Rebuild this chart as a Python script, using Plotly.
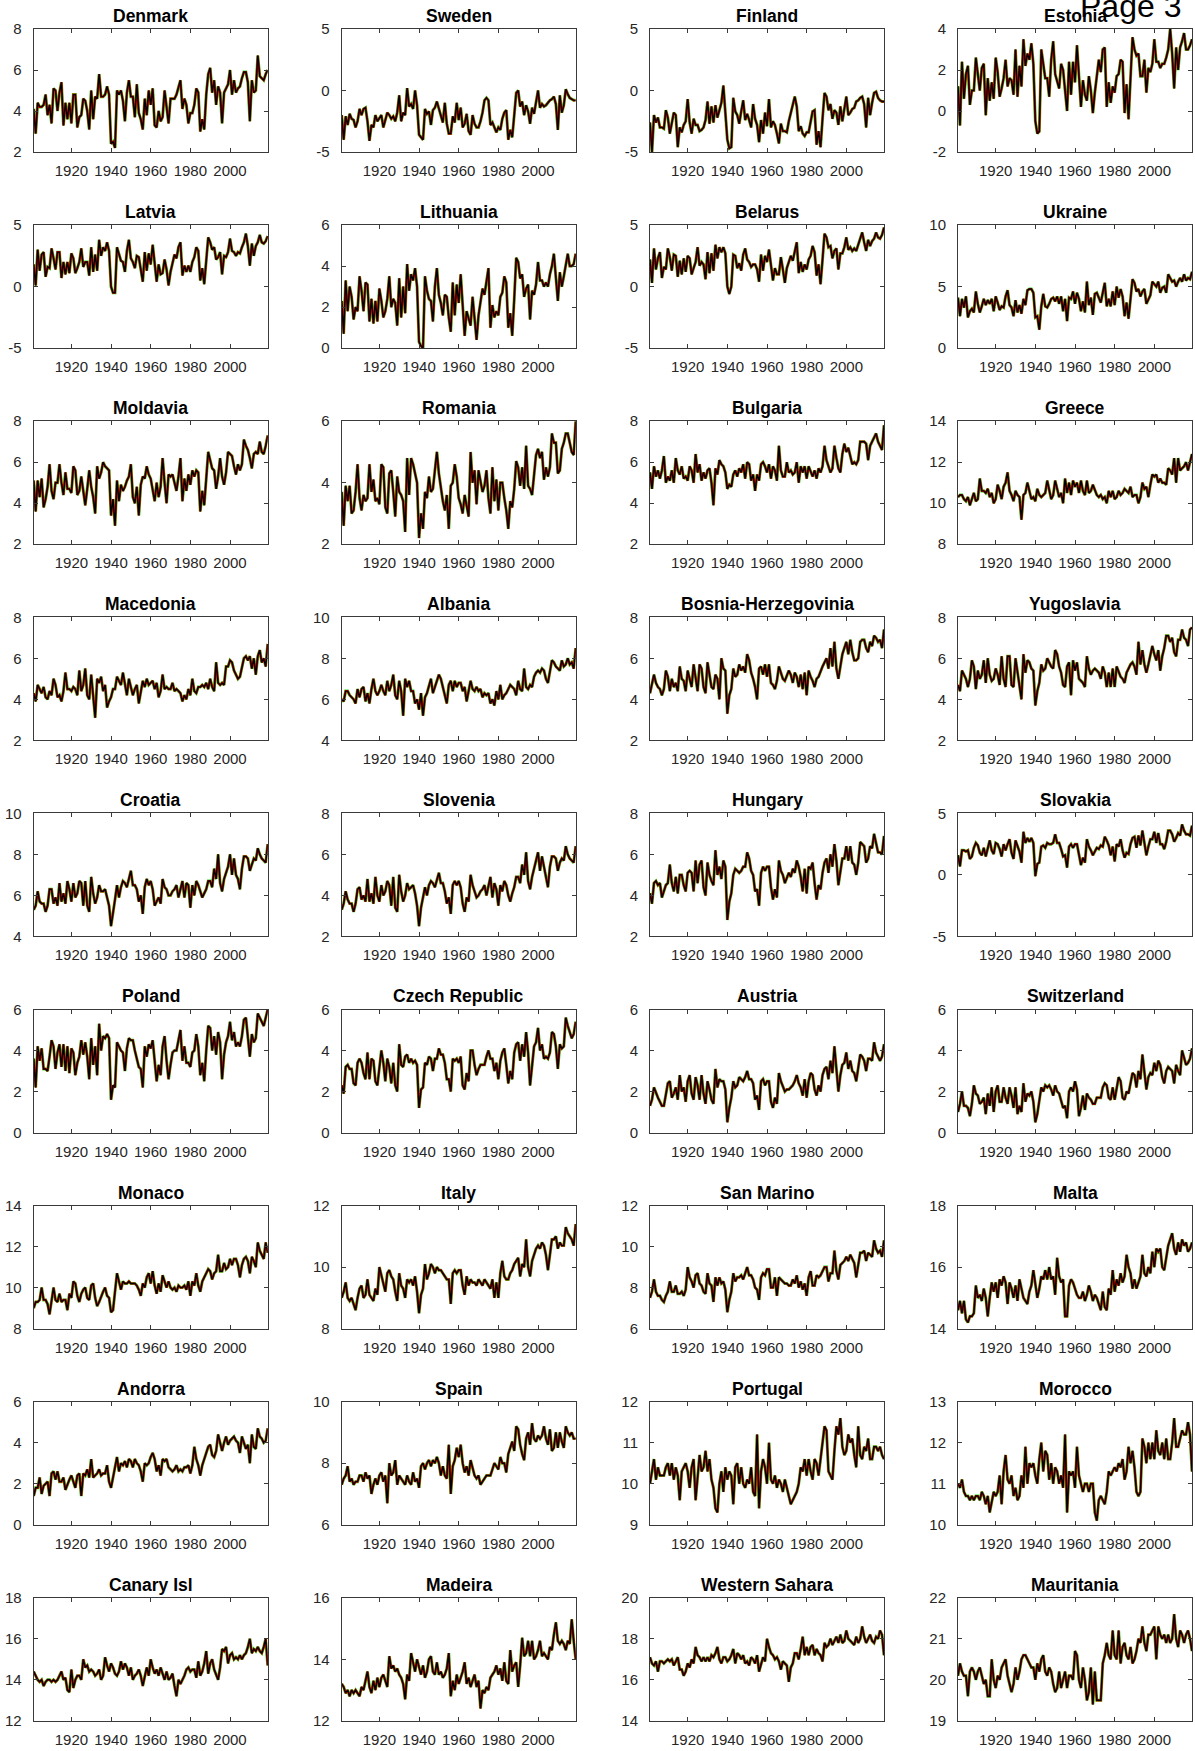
import plotly.graph_objects as go

YEARS = list(range(1901, 2020))
XTICKS = [1920, 1940, 1960, 1980, 2000]

DENMARK = [4.1, 2.9, 4.4, 4.2, 4.2, 4.3, 4.8, 3.8, 4.3, 3.4,
           5.1, 5.0, 4.0, 4.9, 5.4, 3.3, 4.4, 3.6, 4.4, 3.4,
           4.8, 4.8, 3.2, 3.7, 3.8, 4.6, 4.5, 4.0, 3.1, 5.0,
           3.6, 4.7, 4.6, 5.8, 4.7, 4.7, 4.8, 5.2, 4.8, 2.4,
           2.5, 2.2, 5.0, 4.8, 5.0, 4.5, 3.5, 4.9, 5.5, 4.7,
           4.7, 3.7, 5.3, 3.9, 3.6, 3.1, 4.6, 3.8, 5.0, 4.3,
           5.1, 3.3, 3.2, 4.0, 3.5, 3.7, 5.0, 4.2, 3.4, 4.6,
           4.6, 4.6, 4.8, 5.1, 5.5, 4.1, 4.6, 4.3, 3.4, 3.9,
           3.9, 4.3, 5.1, 4.9, 3.0, 3.6, 3.1, 4.8, 5.8, 6.1,
           4.9, 5.5, 4.3, 5.2, 4.9, 3.4, 4.9, 5.1, 5.3, 6.0,
           4.8, 5.5, 4.9, 5.1, 5.2, 5.6, 5.9, 5.9, 5.4, 3.5,
           5.5, 4.9, 5.0, 6.7, 5.7, 5.6, 5.5, 5.8, 6.0]
SWEDEN = [-2.0, -4.0, -2.1, -2.8, -1.9, -2.3, -2.4, -3.0, -2.5, -1.5,
          -2.0, -1.5, -1.4, -2.5, -4.1, -2.8, -3.0, -2.0, -2.5, -2.2,
          -2.0, -3.0, -2.4, -1.8, -2.0, -2.3, -2.1, -2.5, -1.8, -0.4,
          -2.5, -1.8, -2.0, 0.2, -1.3, -1.1, -1.5, 0.0, -1.2, -3.6,
          -3.8, -4.0, -1.5, -1.9, -1.7, -2.8, -1.6, -1.4, -0.9, -1.4,
          -1.9, -2.6, -1.0, -2.7, -3.5, -3.5, -2.1, -2.6, -1.0, -2.4,
          -1.4, -3.0, -2.7, -1.9, -3.3, -3.6, -2.0, -2.7, -3.0, -3.0,
          -2.5, -1.8, -0.8, -0.6, -0.8, -2.8, -2.6, -3.0, -3.4, -3.0,
          -3.2, -2.3, -1.8, -1.6, -4.0, -3.2, -3.8, -2.0, -0.2, 0.0,
          -1.3, -0.9, -2.0, -1.2, -1.7, -2.7, -1.4, -1.9, -1.0, 0.0,
          -1.4, -1.1, -1.3, -1.2, -1.0, -0.8, -0.7, -0.5, -1.1, -3.2,
          -0.4, -1.8, -1.2, 0.1, -0.3, -0.6, -0.7, -0.8, -0.8]
FINLAND = [-2.6, -5.0, -2.0, -2.6, -2.2, -3.0, -3.0, -3.1, -1.6, -2.2,
           -3.5, -2.5, -1.8, -2.0, -4.6, -3.0, -3.4, -2.8, -2.5, -0.7,
           -2.6, -3.5, -2.3, -2.8, -2.8, -3.3, -3.2, -3.0, -2.4, -0.9,
           -2.7, -1.3, -2.6, -1.2, -2.2, -1.6, -1.0, 0.4, -1.8, -4.0,
           -4.7, -4.6, -0.6, -1.7, -2.0, -2.7, -1.7, -0.8, -2.4, -1.9,
           -2.4, -3.0, -1.1, -2.3, -2.8, -4.2, -2.4, -3.5, -1.8, -2.9,
           -0.7, -3.0, -2.5, -2.8, -3.5, -4.3, -2.7, -3.3, -3.3, -3.4,
           -2.5, -1.9, -1.2, -0.5, -1.3, -3.3, -2.9, -3.5, -3.7, -3.4,
           -3.4, -2.4, -1.7, -1.6, -4.4, -3.3, -4.6, -2.3, -0.2, -0.5,
           -1.6, -1.1, -2.3, -1.6, -1.8, -2.8, -1.3, -2.5, -1.4, -0.5,
           -2.0, -1.8, -1.5, -1.4, -0.9, -0.8, -0.6, -0.5, -1.1, -3.0,
           -0.6, -2.0, -1.0, -0.2, -0.1, -0.6, -0.8, -0.9, -0.9]
ESTONIA = [1.2, -0.7, 2.4, 0.6, 1.8, 2.2, 0.3, 1.0, 1.0, 2.6,
           1.8, 1.0, 2.1, 2.3, -0.2, 1.6, 0.5, 1.4, 0.6, 2.6,
           1.9, 0.7, 1.1, 1.6, 2.5, 1.2, 1.6, 1.5, 0.8, 3.0,
           0.7, 2.2, 1.2, 3.5, 2.2, 2.8, 2.5, 3.3, 2.3, -0.5,
           -1.1, -1.0, 3.0, 2.4, 1.6, 1.6, 0.7, 2.5, 3.4, 1.8,
           1.5, 1.1, 2.3, 2.0, 1.0, 0.0, 2.4, 0.8, 2.4, 1.4,
           3.2, 1.5, 0.2, 1.5, 0.8, 0.5, 1.7, 1.0, -0.1, 0.9,
           1.6, 2.5, 1.9, 3.0, 3.1, 0.2, 1.4, 0.4, 1.2, 0.9,
           1.7, 1.8, 2.5, 2.4, -0.1, 1.3, -0.4, 1.7, 3.6, 3.0,
           2.7, 2.8, 1.7, 1.7, 2.5, 0.9, 2.1, 1.9, 2.3, 3.5,
           2.4, 2.4, 2.1, 2.3, 2.3, 2.6, 3.0, 4.0, 2.8, 1.1,
           3.1, 2.0, 3.1, 3.4, 3.8, 3.0, 3.0, 3.2, 3.5]
LATVIA = [1.8, 0.1, 3.0, 1.3, 2.6, 2.8, 0.8, 1.6, 1.5, 3.1,
          2.3, 1.4, 2.8, 2.8, 0.7, 2.0, 1.0, 2.0, 1.1, 2.7,
          2.3, 1.1, 1.5, 2.0, 3.1, 1.6, 2.0, 2.0, 0.9, 3.2,
          1.2, 2.6, 1.3, 3.8, 2.5, 3.2, 2.9, 3.6, 2.9, 0.0,
          -0.5, -0.5, 3.2, 2.6, 2.1, 2.0, 1.2, 2.9, 3.8, 2.3,
          2.0, 1.5, 2.5, 2.4, 1.4, 0.4, 2.8, 1.3, 2.7, 1.8,
          3.4, 1.8, 0.4, 1.8, 1.0, 1.1, 2.2, 1.4, 0.1, 1.2,
          2.0, 2.6, 2.3, 3.2, 3.6, 0.9, 1.7, 1.2, 1.7, 1.2,
          2.0, 2.4, 3.2, 2.9, 0.5, 1.5, 0.2, 2.1, 4.0, 3.6,
          3.0, 3.2, 2.2, 2.4, 2.8, 1.0, 2.5, 2.4, 2.8, 3.9,
          2.9, 2.8, 2.5, 2.8, 2.7, 3.2, 3.6, 4.3, 3.3, 1.7,
          3.5, 2.5, 3.3, 3.6, 4.2, 3.6, 3.5, 3.7, 4.1]
LITHUANIA = [2.3, 0.7, 3.3, 1.8, 3.0, 2.5, 1.4, 2.0, 1.8, 3.5,
             2.8, 1.8, 3.2, 3.1, 1.3, 2.4, 1.2, 2.3, 1.3, 2.9,
             2.3, 1.5, 1.8, 2.4, 3.5, 2.0, 2.4, 2.2, 1.1, 3.4,
             1.5, 3.0, 1.7, 4.1, 2.8, 3.6, 3.3, 3.9, 3.0, 0.3,
             0.1, 0.0, 3.5, 2.8, 2.4, 2.3, 1.3, 3.0, 3.9, 2.6,
             2.2, 1.6, 2.6, 2.5, 1.5, 0.8, 3.2, 1.6, 3.1, 2.2,
             3.6, 2.0, 0.6, 1.8, 1.4, 1.1, 2.5, 1.6, 0.4, 1.6,
             2.3, 2.9, 2.6, 3.3, 3.9, 1.0, 2.1, 1.5, 1.8, 1.6,
             2.5, 2.7, 3.5, 3.2, 1.0, 1.7, 0.6, 2.4, 4.4, 4.2,
             3.4, 3.6, 2.5, 2.9, 3.1, 1.4, 2.8, 2.6, 3.1, 4.2,
             3.3, 3.3, 3.0, 3.2, 3.0, 3.6, 4.0, 4.6, 3.5, 2.3,
             3.7, 3.0, 3.5, 4.0, 4.6, 4.0, 4.0, 4.1, 4.6]
BELARUS = [2.2, 0.3, 3.1, 1.4, 2.3, 2.8, 0.7, 1.6, 1.4, 3.1,
           2.4, 1.3, 2.6, 2.5, 0.8, 2.1, 1.0, 2.3, 1.2, 2.5,
           2.3, 1.0, 1.5, 2.0, 3.2, 1.7, 2.0, 1.8, 0.6, 2.8,
           1.1, 2.7, 1.3, 3.4, 2.3, 3.2, 2.8, 3.2, 2.7, 0.0,
           -0.6, 0.0, 2.6, 2.5, 1.5, 1.9, 1.3, 2.6, 3.1, 2.2,
           2.0, 1.6, 1.8, 1.8, 1.4, 0.4, 2.6, 1.3, 2.5, 2.0,
           3.0, 1.8, 0.5, 1.5, 1.0, 1.0, 2.4, 1.4, 0.3, 1.5,
           2.1, 2.5, 2.1, 2.9, 3.6, 1.1, 2.0, 1.2, 1.8, 1.4,
           2.2, 2.5, 3.3, 2.8, 0.9, 1.8, 0.2, 2.2, 4.3, 4.0,
           3.2, 3.3, 2.3, 2.9, 3.1, 1.4, 2.7, 2.7, 3.2, 4.0,
           3.0, 3.2, 2.9, 3.1, 2.9, 3.4, 4.0, 4.4, 3.6, 2.9,
           3.8, 3.3, 3.7, 3.9, 4.4, 4.0, 3.9, 4.2, 4.8]
UKRAINE = [4.1, 2.6, 4.0, 3.3, 4.2, 2.5, 3.0, 3.2, 2.9, 4.6,
           3.6, 2.9, 3.4, 4.0, 3.5, 3.9, 3.6, 4.0, 3.0, 4.2,
           3.7, 3.1, 3.4, 3.3, 4.2, 4.7, 3.5, 3.3, 2.6, 3.9,
           2.9, 3.5, 2.8, 4.0, 3.5, 4.7, 4.8, 4.8, 4.5, 2.5,
           2.6, 1.5, 3.4, 4.4, 3.4, 3.3, 3.6, 4.0, 4.1, 3.8,
           4.2, 3.6, 4.2, 3.0, 4.0, 2.2, 4.1, 4.0, 4.6, 3.6,
           4.5, 4.0, 3.0, 3.8, 2.9, 5.4, 3.5, 4.1, 2.7, 4.4,
           4.5, 4.0, 3.7, 4.5, 5.3, 3.4, 4.0, 3.4, 4.6, 3.5,
           5.0, 4.1, 4.8, 4.2, 2.6, 3.7, 2.4, 4.0, 5.6, 5.3,
           4.6, 4.8, 4.2, 4.6, 4.8, 3.6, 4.0, 4.3, 5.4, 5.2,
           5.0, 5.4, 4.5, 4.9, 5.0, 4.5, 6.0, 5.7, 5.4, 5.5,
           5.0, 5.4, 5.7, 5.4, 6.0, 5.5, 5.7, 5.6, 6.2]
MOLDAVIA = [5.1, 3.6, 5.1, 4.3, 5.2, 3.8, 4.2, 4.8, 5.9, 4.6,
            4.2, 5.0, 5.0, 5.9, 5.0, 4.4, 5.5, 4.7, 4.7, 4.5,
            5.8, 5.6, 4.4, 4.6, 5.3, 4.6, 3.9, 4.7, 5.6, 4.8,
            4.3, 3.5, 5.8, 5.2, 5.5, 6.0, 5.8, 5.7, 5.6, 3.4,
            4.2, 2.9, 5.1, 4.1, 4.9, 4.6, 4.8, 5.1, 5.3, 5.9,
            4.3, 4.0, 4.8, 3.4, 4.9, 5.3, 5.2, 5.8, 5.4, 5.2,
            4.6, 4.1, 5.0, 4.3, 4.8, 6.2, 5.0, 4.0, 5.4, 5.3,
            5.4, 5.0, 4.6, 5.3, 6.2, 4.1, 5.2, 4.6, 5.4, 4.9,
            5.6, 5.3, 5.6, 5.5, 3.6, 4.6, 3.9, 5.2, 6.5, 6.1,
            5.7, 5.6, 4.7, 5.3, 6.2, 5.3, 4.9, 5.5, 6.5, 6.4,
            6.3, 5.8, 5.4, 5.9, 5.6, 5.9, 7.1, 6.8, 6.6, 6.2,
            5.7, 6.4, 6.5, 6.4, 7.0, 6.5, 6.4, 6.8, 7.3]
ROMANIA = [3.7, 2.6, 3.9, 3.4, 3.9, 3.0, 3.1, 3.7, 4.6, 3.5,
           3.1, 3.6, 3.4, 3.5, 4.6, 3.7, 4.1, 3.4, 3.5, 3.3,
           4.6, 4.5, 3.2, 3.0, 4.3, 4.4, 3.7, 2.9, 4.2, 3.7,
           3.6, 3.4, 2.4, 4.8, 3.6, 4.8, 4.6, 4.3, 4.0, 2.2,
           3.0, 2.5, 3.7, 3.5, 4.2, 3.7, 3.8, 4.4, 5.0, 4.3,
           3.8, 3.4, 3.1, 3.6, 2.5, 3.9, 4.0, 4.6, 4.2, 3.5,
           3.3, 3.0, 3.6, 3.2, 2.9, 5.0, 4.0, 4.4, 3.3, 4.4,
           4.0, 3.7, 3.9, 4.4, 3.5, 3.0, 4.5, 3.4, 4.1, 3.1,
           4.0, 4.0, 3.5, 3.1, 2.5, 3.4, 3.2, 3.8, 4.7, 4.5,
           3.9, 4.5, 3.8, 5.2, 3.9, 3.8, 3.6, 4.4, 4.9, 5.1,
           4.8, 5.0, 4.1, 4.5, 4.2, 4.5, 5.6, 5.3, 5.3, 4.3,
           4.4, 5.1, 5.3, 5.6, 5.6, 5.3, 5.0, 4.9, 6.0]
BULGARIA = [5.5, 4.7, 5.8, 5.3, 5.6, 5.2, 5.6, 6.3, 5.0, 5.3,
            5.1, 5.6, 5.0, 6.2, 5.6, 5.4, 5.8, 5.2, 5.3, 5.1,
            5.8, 5.6, 5.0, 6.4, 5.5, 5.9, 5.1, 5.5, 5.2, 5.6,
            5.7, 5.0, 3.9, 5.7, 5.4, 6.1, 5.9, 5.8, 5.5, 4.7,
            4.9, 4.8, 5.4, 5.6, 5.3, 5.7, 5.5, 5.9, 5.2, 6.0,
            5.9, 5.1, 5.4, 4.6, 5.4, 5.1, 5.9, 6.0, 5.8, 5.5,
            5.9, 5.2, 5.8, 5.6, 5.1, 6.8, 5.6, 5.3, 5.3, 6.0,
            5.5, 5.6, 5.4, 5.5, 6.0, 5.0, 5.8, 5.5, 5.8, 5.2,
            5.8, 5.5, 5.3, 5.6, 5.2, 5.7, 5.5, 5.8, 6.8, 6.1,
            5.8, 5.5, 5.7, 6.8, 6.2, 5.7, 5.5, 6.4, 6.9, 6.5,
            6.7, 6.3, 5.9, 6.0, 5.9, 6.1, 7.0, 7.0, 7.0, 6.9,
            6.1, 6.8, 7.0, 7.2, 7.4, 7.0, 6.8, 6.6, 7.8]
GREECE = [10.3, 10.4, 10.4, 10.2, 10.1, 10.3, 9.9, 10.2, 10.5, 10.1,
          10.2, 11.2, 10.6, 10.6, 10.5, 10.7, 10.3, 10.5, 10.0, 10.2,
          10.9, 10.6, 10.2, 10.8, 11.0, 11.5, 10.6, 10.4, 10.1, 10.6,
          10.4, 10.3, 9.2, 10.4, 10.5, 11.0, 10.6, 10.2, 10.3, 10.1,
          10.7, 10.4, 10.3, 10.4, 10.5, 11.1, 10.6, 10.2, 10.4, 11.1,
          10.7, 10.3, 10.5, 10.0, 11.2, 10.5, 11.0, 10.4, 11.1, 10.8,
          11.0, 10.5, 11.1, 10.6, 10.4, 11.1, 10.5, 10.6, 10.9, 10.6,
          10.4, 10.3, 10.4, 10.2, 10.3, 10.0, 10.6, 10.3, 10.6, 10.2,
          10.3, 10.6, 10.4, 10.5, 10.7, 10.6, 10.5, 10.8, 10.3, 10.4,
          10.4, 10.0, 10.3, 11.0, 10.7, 10.8, 10.3, 10.9, 11.4, 11.3,
          11.4, 11.0, 11.2, 11.0, 11.0, 10.9, 11.7, 11.6, 11.4, 12.2,
          11.0, 12.2, 11.6, 11.7, 11.8, 12.0, 11.6, 12.0, 12.4]
MACEDONIA = [4.3, 3.9, 4.7, 4.5, 4.3, 4.6, 4.1, 4.0, 4.4, 4.2,
             5.0, 4.7, 4.1, 4.2, 3.9, 4.4, 5.3, 4.5, 4.5, 4.4,
             4.6, 4.5, 4.2, 5.4, 4.4, 4.7, 5.5, 4.2, 4.0, 5.2,
             4.3, 3.1, 5.0, 4.8, 5.1, 4.4, 4.7, 3.6, 3.9, 4.1,
             4.5, 4.5, 5.1, 4.9, 4.7, 5.3, 4.8, 4.2, 5.0, 4.6,
             4.2, 4.5, 4.7, 3.8, 4.4, 4.9, 4.6, 5.0, 4.7, 4.8,
             4.9, 4.5, 4.8, 4.1, 4.4, 5.2, 4.5, 4.6, 4.5, 4.5,
             4.8, 4.4, 4.5, 4.4, 4.3, 3.9, 4.2, 4.0, 4.5, 4.2,
             5.0, 4.4, 4.3, 4.6, 4.6, 4.7, 4.6, 4.8, 4.5, 5.0,
             4.6, 4.4, 5.8, 4.8, 4.7, 4.8, 4.7, 5.6, 5.6, 5.9,
             5.8, 5.4, 5.2, 5.0, 5.1, 5.5, 6.0, 6.1, 5.9, 6.1,
             5.5, 6.0, 5.2, 6.1, 6.4, 5.8, 6.0, 5.6, 6.7]
ALBANIA = [6.0, 5.9, 6.4, 6.4, 6.2, 6.1, 6.0, 5.8, 6.5, 6.1,
           6.5, 6.6, 5.9, 6.3, 5.8, 6.5, 7.0, 6.4, 6.2, 6.4,
           6.7, 6.4, 6.2, 6.9, 6.4, 6.7, 7.2, 6.2, 6.0, 6.9,
           6.4, 5.2, 7.0, 6.6, 6.9, 6.4, 6.4, 5.8, 6.0, 5.5,
           6.3, 5.2, 6.1, 6.3, 6.6, 7.0, 6.3, 6.6, 6.9, 7.2,
           7.0, 6.6, 6.3, 5.8, 6.7, 6.9, 6.4, 6.9, 6.6, 6.8,
           6.8, 6.4, 6.6, 5.9, 6.4, 6.9, 6.5, 6.4, 6.6, 6.4,
           6.5, 6.1, 6.3, 6.2, 6.3, 5.8, 6.0, 5.7, 6.4, 6.0,
           6.7, 6.0, 6.2, 6.3, 6.5, 6.7, 6.6, 6.5, 6.2, 6.9,
           6.5, 6.4, 7.5, 6.6, 6.5, 6.7, 6.6, 7.1, 7.3, 7.4,
           7.3, 7.5, 7.4, 7.0, 6.8, 7.3, 7.9, 7.8, 7.6, 7.5,
           7.4, 7.9, 7.6, 7.7, 8.0, 7.7, 7.8, 7.5, 8.5]
BOSNIA = [4.3, 4.8, 5.2, 4.8, 4.6, 4.5, 4.2, 4.5, 5.4, 5.1,
          4.4, 5.0, 4.6, 4.8, 4.4, 5.6, 5.0, 4.9, 4.4, 5.4,
          5.0, 4.6, 5.7, 5.0, 4.4, 5.7, 5.5, 4.6, 4.3, 5.8,
          5.1, 4.6, 4.5, 5.2, 5.0, 4.0, 6.0, 5.5, 5.4, 3.3,
          4.2, 4.5, 5.5, 5.1, 5.2, 5.7, 5.4, 5.6, 5.3, 6.2,
          5.9, 5.3, 5.0, 4.6, 4.0, 5.5, 5.6, 5.2, 5.7, 5.1,
          5.7, 4.8, 4.7, 4.5, 4.9, 5.6, 5.3, 5.0, 4.9, 5.2,
          5.4, 5.2, 4.8, 5.3, 5.1, 4.6, 5.2, 4.5, 5.3, 4.2,
          5.4, 5.1, 4.9, 4.6, 5.0, 5.1, 5.4, 5.6, 5.8, 6.0,
          5.5, 6.5, 5.6, 6.8, 5.5, 5.0, 5.6, 6.2, 6.5, 6.8,
          6.2, 6.9, 6.3, 5.9, 5.9, 6.0, 6.8, 6.9, 6.9, 6.5,
          6.3, 6.8, 6.6, 7.1, 7.0, 6.8, 6.9, 6.5, 7.4]
YUGOSLAVIA = [4.7, 4.4, 5.4, 5.2, 5.0, 4.6, 5.0, 5.9, 5.6, 4.5,
              5.4, 5.0, 5.2, 5.9, 4.8, 6.0, 5.2, 4.9, 5.0, 5.5,
              5.2, 4.7, 6.1, 5.0, 4.6, 6.1, 6.1, 4.7, 4.6, 6.0,
              5.4, 4.7, 4.0, 6.2, 5.3, 5.9, 5.8, 5.5, 5.4, 3.7,
              4.4, 4.8, 5.7, 5.4, 5.5, 6.0, 5.8, 5.6, 5.5, 6.4,
              6.2, 5.6, 5.3, 4.7, 4.6, 5.6, 5.8, 4.2, 5.9, 5.4,
              5.8, 5.0, 4.9, 4.8, 4.6, 6.1, 5.5, 5.2, 5.4, 5.5,
              5.4, 5.3, 5.0, 5.6, 5.3, 4.6, 5.3, 4.6, 5.5, 4.6,
              5.6, 5.3, 5.1, 5.0, 4.8, 5.3, 5.5, 5.7, 5.8, 5.6,
              5.2, 6.8, 5.7, 6.4, 5.7, 5.3, 5.7, 6.1, 6.6, 6.2,
              5.9, 6.4, 5.4, 6.1, 6.5, 7.1, 7.1, 6.8, 7.0, 6.3,
              6.1, 6.9, 6.9, 7.4, 7.0, 6.9, 6.6, 7.4, 7.5]
CROATIA = [5.3, 5.5, 6.2, 5.7, 5.6, 5.6, 5.2, 5.5, 6.3, 6.3,
           5.6, 5.9, 5.5, 6.6, 5.7, 6.1, 5.6, 6.7, 6.3, 5.7,
           6.6, 5.9, 6.1, 6.7, 6.6, 5.5, 6.7, 5.5, 5.2, 6.9,
           6.1, 5.6, 5.9, 6.5, 6.2, 6.2, 6.3, 5.9, 5.5, 4.5,
           5.3, 5.8, 6.5, 5.9, 6.4, 6.7, 6.6, 6.4, 6.8, 7.2,
           6.5, 6.5, 6.3, 5.7, 6.0, 5.1, 6.4, 6.8, 6.5, 6.7,
           6.3, 5.5, 5.7, 5.9, 5.6, 6.8, 6.4, 6.3, 6.0, 6.0,
           6.2, 6.3, 6.5, 5.9, 6.3, 6.7, 5.9, 6.6, 6.5, 5.4,
           6.5, 6.0, 6.7, 6.5, 6.2, 5.9, 6.1, 6.3, 6.7, 6.7,
           6.4, 7.3, 6.8, 8.0, 6.6, 6.2, 6.8, 7.1, 7.4, 8.0,
           7.0, 7.8, 7.0, 6.8, 6.3, 7.3, 7.9, 7.9, 7.8, 7.2,
           7.5, 7.8, 7.7, 8.3, 8.0, 7.8, 7.7, 7.6, 8.5]
SLOVENIA = [3.3, 3.6, 4.2, 3.8, 3.6, 3.6, 3.2, 3.6, 4.3, 4.4,
            3.8, 4.0, 3.7, 4.8, 3.7, 4.1, 3.6, 4.9, 4.0, 3.7,
            4.5, 4.0, 4.2, 4.7, 4.5, 3.5, 4.9, 3.4, 3.2, 5.0,
            4.2, 3.7, 4.0, 4.6, 4.3, 4.4, 4.5, 4.1, 3.5, 2.5,
            3.4, 3.9, 4.4, 4.0, 4.5, 4.7, 4.6, 4.4, 4.8, 5.1,
            4.6, 4.6, 4.2, 3.6, 3.9, 3.1, 4.5, 4.7, 4.5, 4.7,
            4.4, 3.6, 3.2, 3.9, 3.7, 5.0, 4.5, 4.2, 3.9, 4.0,
            4.2, 4.3, 4.5, 4.0, 4.5, 4.9, 3.9, 4.6, 4.3, 3.5,
            4.5, 4.2, 4.7, 4.5, 4.0, 3.7, 4.1, 4.4, 4.9, 4.9,
            4.6, 5.5, 5.0, 6.1, 4.7, 4.3, 4.9, 5.3, 5.7, 6.1,
            5.2, 5.9, 5.4, 4.9, 4.4, 5.4, 5.9, 5.9, 5.8, 5.2,
            5.6, 5.8, 5.7, 6.4, 6.0, 5.8, 5.7, 5.6, 6.4]
HUNGARY = [4.1, 3.6, 4.6, 4.7, 4.5, 4.6, 3.9, 4.2, 4.5, 4.6,
           5.5, 4.6, 4.2, 4.9, 4.1, 5.0, 5.0, 4.5, 4.2, 5.1,
           5.2, 5.1, 4.2, 5.7, 4.6, 5.5, 5.7, 4.4, 4.0, 5.6,
           5.0, 4.7, 4.5, 6.2, 5.0, 5.4, 4.8, 5.7, 5.4, 2.8,
           3.7, 4.1, 5.0, 5.3, 5.2, 5.1, 5.2, 5.4, 5.4, 6.1,
           5.8, 5.2, 5.0, 4.2, 4.3, 3.5, 5.1, 5.4, 5.2, 5.4,
           5.4, 4.4, 3.8, 4.3, 3.9, 5.7, 5.2, 5.0, 4.6, 4.9,
           5.1, 4.9, 5.3, 5.1, 5.7, 5.4, 4.9, 4.2, 5.3, 4.1,
           5.4, 5.3, 5.6, 4.6, 3.8, 4.5, 4.3, 5.1, 5.6, 5.8,
           5.1, 6.0, 5.4, 6.5, 5.7, 4.5, 5.1, 5.8, 5.8, 6.4,
           5.7, 6.4, 5.6, 5.5, 5.0, 5.6, 6.6, 6.5, 6.4, 5.6,
           5.8, 6.4, 6.3, 7.0, 6.6, 6.1, 6.1, 6.0, 6.9]
SLOVAKIA = [1.6, 0.7, 2.0, 2.0, 1.9, 2.0, 1.3, 1.5, 2.2, 2.6,
            2.4, 1.8, 1.6, 2.2, 1.5, 2.2, 2.8, 2.0, 1.7, 2.6,
            2.5, 2.1, 1.5, 2.5, 2.0, 2.5, 2.9, 1.8, 1.3, 2.8,
            2.3, 1.9, 1.0, 3.5, 2.6, 3.0, 2.7, 3.0, 2.6, -0.1,
            0.9, 1.0, 2.3, 2.4, 2.2, 2.6, 2.5, 2.5, 2.6, 3.3,
            2.6, 2.6, 2.1, 1.5, 1.6, 0.6, 2.3, 2.5, 2.2, 2.5,
            2.5, 1.5, 0.8, 1.4, 1.0, 2.9, 2.3, 2.0, 1.6, 1.9,
            2.2, 2.1, 2.4, 2.3, 3.1, 2.8, 2.4, 1.6, 2.3, 1.1,
            2.5, 2.3, 2.9, 2.0, 1.4, 1.8, 1.7, 2.5, 3.0, 3.1,
            2.2, 3.2, 2.4, 3.6, 2.5, 1.6, 2.3, 2.9, 2.9, 3.5,
            2.6, 3.4, 2.5, 2.5, 2.1, 2.7, 3.6, 3.6, 3.3, 2.7,
            3.0, 3.4, 3.2, 4.1, 3.6, 3.3, 3.3, 3.2, 4.0]
POLAND = [3.6, 2.2, 4.2, 3.5, 4.1, 3.1, 3.1, 3.0, 3.7, 4.5,
          4.2, 3.1, 3.9, 4.3, 3.2, 4.3, 3.0, 4.2, 2.9, 4.1,
          3.9, 2.8, 3.4, 3.7, 4.5, 3.8, 4.4, 3.7, 2.6, 4.6,
          3.3, 4.2, 2.8, 5.3, 4.0, 4.7, 4.6, 4.8, 4.6, 1.6,
          2.3, 2.2, 4.4, 4.2, 4.0, 3.9, 3.0, 4.1, 4.6, 4.5,
          4.5, 4.0, 3.6, 3.2, 3.1, 2.2, 4.2, 3.7, 4.3, 4.1,
          4.5, 3.3, 2.5, 3.3, 2.8, 4.2, 4.7, 3.5, 2.6, 3.3,
          3.9, 4.0, 4.0, 4.5, 5.0, 3.5, 4.2, 3.4, 3.4, 3.2,
          3.9, 4.0, 4.8, 4.2, 2.8, 3.4, 2.5, 4.0, 5.2, 5.1,
          4.0, 4.7, 3.8, 4.9, 4.4, 2.6, 3.8, 4.4, 4.7, 5.4,
          4.5, 4.9, 4.2, 4.4, 4.2, 4.7, 5.5, 5.6, 4.7, 3.7,
          4.8, 4.4, 4.6, 5.8, 5.6, 5.4, 5.2, 5.6, 6.0]
CZECH = [2.3, 1.9, 3.2, 3.3, 3.1, 3.1, 2.4, 2.3, 3.4, 3.6,
         3.4, 2.9, 2.6, 3.9, 2.6, 3.6, 3.5, 2.5, 2.3, 3.3,
         4.0, 3.4, 2.5, 3.6, 3.2, 2.4, 3.4, 2.3, 2.0, 4.3,
         3.3, 3.2, 3.7, 3.8, 3.4, 3.6, 3.4, 3.5, 3.3, 1.2,
         2.1, 2.2, 3.4, 3.3, 3.7, 3.6, 3.0, 3.6, 3.6, 4.1,
         3.8, 3.8, 3.4, 2.6, 2.6, 2.0, 3.6, 3.5, 3.6, 3.4,
         3.7, 2.3, 2.1, 2.9, 2.5, 4.0, 4.0, 3.3, 2.8, 3.1,
         3.3, 3.3, 3.3, 3.7, 4.0, 3.6, 3.6, 3.0, 3.4, 2.6,
         3.5, 3.9, 4.1, 3.3, 2.4, 3.0, 2.6, 3.9, 4.3, 4.4,
         3.5, 4.3, 3.7, 4.9, 3.9, 2.3, 3.4, 4.2, 4.4, 5.1,
         4.0, 4.3, 3.6, 3.7, 3.6, 3.9, 4.9, 4.8, 4.2, 3.1,
         4.3, 4.1, 4.2, 5.6, 5.2, 4.9, 4.6, 4.8, 5.4]
AUSTRIA = [1.3, 1.6, 2.2, 1.9, 1.7, 1.5, 1.3, 1.3, 1.9, 2.4,
           2.5, 1.7, 1.9, 2.2, 1.6, 2.8, 2.0, 2.2, 1.5, 2.5,
           2.8, 1.9, 1.6, 2.7, 2.3, 1.6, 2.8, 1.9, 1.4, 2.5,
           2.1, 1.6, 1.4, 3.1, 2.2, 2.6, 2.5, 2.5, 2.1, 0.5,
           1.2, 1.7, 2.5, 2.2, 2.3, 2.7, 2.6, 2.5, 2.7, 3.0,
           2.6, 2.6, 2.4, 1.6, 1.8, 1.1, 2.5, 2.6, 2.3, 2.5,
           2.5, 1.5, 1.2, 1.7, 1.4, 2.9, 2.5, 2.2, 2.0, 2.1,
           2.1, 2.2, 2.3, 2.5, 2.8, 2.4, 2.2, 1.8, 2.6, 1.7,
           2.5, 2.9, 2.8, 2.1, 1.8, 2.3, 2.0, 2.8, 3.1, 3.2,
           2.6, 3.5, 2.9, 4.2, 3.0, 2.0, 2.8, 3.3, 3.4, 3.9,
           3.1, 3.5, 3.0, 2.9, 2.5, 3.3, 3.8, 3.7, 3.5, 3.0,
           3.6, 3.6, 3.5, 4.4, 3.9, 3.7, 3.5, 3.7, 4.3]
SWITZERLAND = [1.0, 1.4, 2.0, 1.3, 1.3, 1.2, 0.8, 1.4, 2.3, 1.9,
               1.8, 1.4, 1.5, 1.7, 0.9, 1.9, 1.3, 2.2, 1.0, 2.0,
               2.3, 1.5, 1.5, 2.2, 1.7, 1.4, 2.2, 1.8, 1.2, 2.2,
               0.9, 1.3, 1.0, 2.4, 1.5, 1.9, 1.8, 2.0, 1.5, 0.5,
               0.9, 1.6, 2.2, 2.0, 2.3, 2.2, 2.3, 2.1, 1.8, 2.3,
               2.0, 1.9, 1.5, 1.2, 1.3, 0.7, 2.0, 2.2, 2.0, 2.5,
               2.1, 0.8, 1.2, 1.8, 1.1, 1.9, 1.7, 1.6, 1.4, 1.4,
               1.7, 1.7, 1.7, 2.2, 2.4, 2.3, 1.7, 1.6, 2.2, 1.6,
               2.1, 2.7, 2.5, 1.7, 1.6, 2.0, 1.9, 2.5, 2.9, 2.8,
               2.2, 3.0, 2.6, 3.8, 2.8, 2.1, 2.7, 2.9, 2.8, 3.4,
               3.0, 3.5, 3.3, 2.7, 2.4, 3.0, 3.2, 3.1, 3.0, 2.4,
               3.3, 3.0, 2.8, 4.0, 3.6, 3.3, 3.4, 3.6, 4.1]
MONACO = [9.0, 9.3, 9.3, 9.4, 10.0, 9.4, 9.4, 9.2, 8.7, 9.3,
          10.0, 9.4, 9.3, 9.7, 9.3, 9.4, 9.4, 8.9, 9.7, 9.5,
          10.3, 10.2, 9.6, 9.3, 9.7, 9.9, 10.0, 9.5, 9.4, 10.1,
          10.2, 9.5, 9.1, 9.3, 9.6, 9.8, 10.0, 9.6, 9.5, 8.8,
          8.9, 9.8, 10.7, 10.3, 9.9, 10.3, 10.2, 10.2, 10.3, 10.2,
          10.2, 10.2, 10.1, 9.9, 9.6, 10.2, 10.0, 10.5, 10.7, 10.2,
          10.8, 10.1, 9.7, 10.2, 9.8, 10.6, 10.3, 10.0, 10.3, 10.0,
          9.9, 10.0, 9.8, 10.1, 10.0, 10.0, 10.1, 9.9, 10.3, 9.6,
          10.3, 10.1, 10.7, 10.1, 9.8, 10.3, 10.5, 10.7, 10.9, 10.8,
          10.4, 10.7, 10.8, 11.6, 10.8, 10.8, 11.2, 10.9, 11.0, 11.4,
          11.1, 11.4, 11.4, 11.1, 10.5, 11.1, 11.4, 11.5, 11.3, 10.7,
          11.5, 11.3, 11.0, 12.2, 11.8, 11.6, 11.4, 12.2, 11.7]
ITALY = [9.0, 9.2, 9.5, 9.0, 8.9, 9.0, 8.8, 8.6, 9.0, 9.3,
         9.4, 9.0, 9.1, 9.6, 9.1, 9.0, 8.9, 9.3, 9.1, 10.0,
         9.7, 9.5, 9.2, 9.8, 9.9, 9.7, 9.6, 9.2, 8.9, 9.8,
         9.4, 9.3, 9.0, 9.6, 9.5, 9.6, 9.4, 9.7, 9.2, 8.5,
         9.1, 9.3, 10.1, 9.6, 9.8, 10.1, 10.0, 9.8, 10.0, 9.9,
         9.9, 9.8, 9.7, 9.6, 9.6, 8.8, 9.8, 9.9, 9.8, 9.9,
         9.9, 9.4, 9.1, 9.7, 9.4, 9.6, 9.5, 9.5, 9.4, 9.6,
         9.5, 9.4, 9.6, 9.5, 9.4, 9.3, 9.6, 9.0, 9.5, 9.0,
         9.8, 10.2, 9.7, 9.6, 9.6, 9.8, 9.9, 10.1, 10.2, 10.3,
         9.7, 10.1, 10.0, 10.9, 10.0, 9.7, 10.2, 10.4, 10.6, 10.7,
         10.6, 10.8, 10.7, 10.4, 9.9, 10.4, 10.9, 10.9, 11.0, 10.6,
         10.8, 10.7, 10.7, 11.3, 11.1, 11.0, 10.9, 10.7, 11.4]
SAN_MARINO = [7.5, 7.8, 8.4, 7.8, 7.6, 7.6, 7.4, 7.3, 7.6, 7.8,
              8.3, 7.8, 7.8, 8.1, 7.7, 7.7, 7.8, 7.6, 7.9, 9.0,
              8.5, 8.3, 8.0, 8.6, 8.7, 8.2, 8.1, 7.8, 7.7, 8.7,
              8.2, 8.1, 7.3, 8.5, 8.1, 8.5, 8.2, 8.3, 7.9, 6.8,
              7.4, 7.8, 8.7, 8.3, 8.5, 8.5, 8.6, 8.4, 8.7, 9.0,
              8.6, 8.6, 8.4, 8.0, 7.9, 7.4, 8.5, 8.7, 8.6, 8.9,
              8.9, 8.0, 8.0, 8.5, 7.6, 8.5, 8.4, 8.3, 8.2, 8.2,
              8.1, 8.1, 8.4, 8.2, 8.6, 8.0, 8.3, 7.9, 8.2, 7.6,
              8.5, 8.8, 8.1, 8.1, 8.6, 8.5, 8.6, 8.8, 9.0, 9.0,
              8.3, 8.7, 8.7, 9.8, 8.8, 8.4, 9.1, 9.2, 9.3, 9.5,
              9.3, 9.6, 9.4, 9.2, 8.5, 9.1, 9.7, 9.7, 9.8, 9.3,
              9.7, 9.6, 9.5, 10.3, 9.9, 9.7, 9.8, 9.5, 10.3]
MALTA = [14.6, 14.9, 14.5, 14.9, 14.3, 14.2, 14.4, 14.4, 14.5, 15.4,
         15.0, 15.1, 14.9, 15.3, 15.0, 14.4, 15.0, 15.5, 15.2, 15.5,
         15.0, 15.6, 15.4, 15.7, 15.5, 14.8, 15.5, 15.3, 15.0, 15.4,
         14.9, 15.6, 15.3, 15.0, 14.9, 14.8, 15.2, 15.4, 15.9, 15.4,
         15.0, 15.3, 15.7, 15.6, 15.9, 15.6, 16.0, 15.6, 15.7, 15.1,
         16.3, 15.7, 15.5, 15.6, 14.4, 14.4, 15.4, 15.6, 15.5, 15.3,
         15.1, 15.0, 15.0, 15.2, 14.9, 15.1, 15.4, 15.2, 14.9, 15.1,
         15.0, 14.8, 14.6, 15.2, 14.7, 14.6, 15.3, 15.1, 15.9, 15.2,
         15.6, 15.4, 15.8, 15.5, 15.7, 16.4, 16.0, 15.8, 15.3, 15.6,
         15.3, 15.5, 15.7, 16.4, 15.8, 15.7, 16.0, 15.8, 16.5, 16.0,
         16.6, 16.5, 16.6, 16.0, 15.9, 16.3, 16.7, 16.9, 17.1, 16.6,
         16.4, 16.8, 16.5, 16.9, 16.7, 16.8, 16.5, 16.6, 16.8]
ANDORRA = [1.4, 1.8, 1.8, 2.3, 1.5, 1.9, 2.0, 2.1, 1.4, 2.5,
           2.6, 2.2, 2.6, 2.1, 2.1, 2.3, 1.7, 2.0, 2.2, 2.4,
           2.1, 1.8, 2.4, 2.5, 1.4, 2.5, 2.4, 2.7, 2.3, 3.2,
           2.3, 2.4, 2.5, 2.7, 2.4, 2.5, 2.5, 2.9, 2.1, 1.8,
           2.3, 2.9, 3.3, 2.6, 3.0, 2.9, 3.1, 2.8, 3.2, 3.1,
           2.8, 3.2, 3.0, 2.9, 2.6, 2.1, 3.0, 2.9, 3.0, 3.3,
           3.5, 3.2, 2.6, 2.9, 2.4, 3.2, 3.1, 3.2, 2.8, 2.7,
           2.6, 2.7, 2.9, 2.6, 2.7, 2.6, 2.8, 2.8, 2.9, 2.5,
           2.9, 3.8, 3.2, 2.9, 2.4, 2.9, 3.2, 3.5, 3.8, 3.9,
           3.4, 3.3, 3.6, 4.4, 4.0, 3.6, 4.0, 4.3, 3.9, 4.1,
           4.2, 4.3, 4.1, 4.0, 3.5, 4.3, 4.0, 3.7, 3.9, 3.0,
           4.4, 3.8, 3.7, 4.7, 4.3, 4.2, 4.0, 4.1, 4.7]
SPAIN = [7.3, 7.5, 7.6, 7.9, 7.4, 7.5, 7.3, 7.4, 7.4, 7.6,
         7.6, 7.4, 7.7, 7.5, 7.6, 7.0, 7.3, 7.5, 7.3, 7.6,
         7.7, 7.4, 7.6, 6.7, 8.0, 7.6, 7.7, 8.1, 7.3, 7.6,
         7.5, 7.4, 7.3, 7.6, 7.4, 7.3, 7.7, 7.4, 7.5, 7.2,
         7.9, 8.0, 7.8, 8.0, 8.1, 7.9, 8.1, 8.0, 8.2, 8.0,
         7.6, 7.9, 7.6, 7.5, 8.6, 7.0, 7.9, 8.1, 8.5, 8.2,
         8.6, 8.0, 7.7, 7.9, 7.6, 8.1, 7.8, 7.6, 7.5, 7.6,
         7.3, 7.4, 7.5, 7.6, 7.6, 7.6, 7.8, 8.0, 7.9, 7.8,
         8.2, 8.0, 8.0, 7.7, 8.3, 8.5, 8.7, 8.4, 9.2, 9.1,
         8.6, 8.3, 8.1, 8.8, 9.0, 8.6, 9.3, 8.8, 8.7, 8.9,
         8.8, 8.9, 9.2, 8.8, 8.6, 9.1, 8.4, 8.5, 9.0, 8.5,
         9.0, 8.7, 8.5, 9.2, 9.0, 8.9, 9.0, 8.8, 8.8]
PORTUGAL = [10.0, 10.3, 10.6, 10.1, 10.4, 10.2, 10.2, 10.2, 10.4, 10.5,
            10.2, 10.5, 10.1, 10.4, 10.2, 9.6, 10.3, 10.4, 10.5, 10.3,
            9.9, 10.4, 10.6, 9.6, 10.2, 10.7, 10.3, 10.4, 10.8, 10.3,
            10.6, 10.1, 9.9, 9.4, 9.3, 10.0, 10.3, 9.8, 10.4, 10.1,
            10.3, 10.2, 9.5, 10.4, 10.5, 10.0, 10.4, 10.0, 9.9, 10.1,
            10.0, 10.4, 9.8, 9.7, 11.2, 9.4, 10.3, 10.6, 10.4, 10.0,
            11.0, 10.1, 10.0, 10.2, 9.9, 10.1, 10.0, 9.8, 10.1, 9.9,
            9.7, 9.5, 9.6, 9.7, 9.8, 10.0, 10.4, 10.3, 10.6, 10.2,
            10.6, 10.3, 10.1, 10.6, 10.5, 10.2, 10.6, 11.1, 11.4, 11.3,
            10.3, 10.2, 10.1, 10.8, 11.4, 11.2, 11.6, 10.9, 10.7, 10.8,
            11.2, 11.0, 11.1, 10.7, 10.4, 11.4, 10.7, 10.6, 10.9, 10.8,
            11.1, 10.6, 10.6, 10.9, 10.9, 10.8, 10.9, 10.7, 10.6]
MOROCCO = [11.0, 10.9, 11.1, 10.8, 10.7, 10.7, 10.6, 10.7, 10.6, 10.7,
           10.7, 10.6, 10.8, 10.7, 10.5, 10.7, 10.3, 10.6, 10.8, 10.7,
           10.8, 11.2, 10.5, 11.3, 11.7, 11.1, 11.0, 11.2, 10.7, 10.9,
           10.6, 10.7, 11.2, 10.9, 11.9, 11.0, 11.5, 11.4, 11.5, 11.2,
           11.0, 11.6, 12.0, 11.3, 11.8, 11.7, 11.1, 11.5, 11.0, 11.4,
           11.3, 11.0, 11.2, 10.9, 12.2, 10.3, 11.3, 11.2, 11.3, 10.9,
           11.9, 11.2, 11.0, 10.8, 11.0, 11.0, 10.8, 11.0, 11.0, 10.3,
           10.1, 10.6, 10.7, 10.6, 10.5, 10.8, 11.3, 11.2, 11.3, 11.4,
           11.3, 11.5, 11.4, 11.6, 11.1, 11.3, 11.9, 11.5, 11.8, 11.4,
           10.8, 10.7, 10.8, 12.1, 11.9, 11.5, 12.0, 11.6, 12.0, 11.6,
           12.3, 11.8, 11.7, 12.0, 11.6, 12.1, 11.6, 11.6, 12.0, 12.6,
           11.9, 11.9, 12.1, 12.3, 12.2, 12.2, 12.5, 12.2, 11.3]
CANARY = [14.4, 14.2, 14.0, 13.9, 14.0, 13.7, 13.9, 14.0, 14.0, 13.9,
          14.0, 13.9, 14.0, 14.2, 14.4, 14.0, 14.1, 13.5, 13.4, 14.5,
          13.6, 14.0, 14.2, 14.2, 14.0, 15.0, 14.6, 14.7, 14.4, 14.5,
          14.4, 14.2, 14.3, 14.5, 14.0, 14.2, 15.1, 14.7, 14.4, 14.8,
          14.6, 14.3, 14.2, 14.4, 14.9, 14.5, 14.8, 14.6, 14.2, 14.6,
          14.0, 14.2, 14.3, 14.5, 14.2, 13.7, 14.1, 14.6, 14.2, 15.0,
          14.6, 14.3, 14.5, 14.2, 14.6, 14.3, 14.0, 14.4, 14.0, 14.1,
          14.3, 13.7, 13.2, 14.0, 13.8, 14.0, 14.2, 14.5, 14.6, 14.4,
          14.5, 14.5, 14.1, 14.9, 14.2, 14.4, 14.8, 15.4, 14.3, 14.8,
          15.0, 14.5, 14.2, 14.0, 14.6, 15.5, 15.4, 15.6, 14.8, 15.2,
          15.3, 15.0, 15.1, 15.0, 15.2, 15.0, 15.2, 15.3, 15.6, 16.0,
          15.3, 15.5, 15.4, 15.6, 15.4, 15.3, 15.6, 16.0, 14.7]
MADEIRA = [13.2, 13.1, 12.9, 13.0, 12.8, 13.0, 12.9, 13.0, 12.9, 12.8,
           13.1, 13.0, 13.3, 13.6, 13.1, 12.9, 13.3, 13.0, 13.4, 13.1,
           13.4, 13.5, 13.3, 13.1, 14.1, 13.7, 13.8, 13.6, 13.7, 13.5,
           13.4, 13.2, 12.7, 13.5, 13.3, 14.2, 13.9, 13.6, 14.0, 13.7,
           13.5, 13.8, 13.4, 13.6, 14.0, 14.1, 13.6, 13.5, 13.9, 13.5,
           13.6, 13.4, 13.5, 13.7, 14.2, 12.8, 13.3, 13.0, 13.5, 13.2,
           13.4, 13.6, 13.9, 13.2, 13.4, 13.1, 13.3, 13.5, 13.1, 13.3,
           12.4, 13.0, 12.9, 13.1, 13.0, 13.4, 13.5, 13.6, 13.8, 13.5,
           13.7, 13.3, 13.9, 13.3, 13.2, 14.3, 13.6, 13.8, 13.9, 13.1,
           13.8, 14.7, 14.1, 14.2, 14.6, 14.1, 14.6, 14.0, 14.1, 14.3,
           14.6, 14.1, 14.2, 14.1, 14.0, 14.4, 14.3, 14.8, 15.2, 14.6,
           14.5, 14.6, 14.5, 14.3, 14.6, 14.5, 15.3, 14.6, 14.0]
W_SAHARA = [17.1, 16.8, 16.7, 16.9, 16.4, 16.9, 16.9, 16.8, 16.9, 17.0,
            16.9, 17.0, 16.7, 16.9, 17.1, 16.5, 16.5, 16.2, 16.4, 16.8,
            16.6, 17.0, 16.8, 17.6, 17.2, 17.1, 16.9, 17.1, 16.9, 17.1,
            16.9, 17.2, 17.1, 17.3, 17.6, 17.0, 16.8, 17.1, 17.1, 16.9,
            17.0, 17.2, 17.5, 16.8, 17.3, 17.2, 17.0, 17.2, 16.8, 16.9,
            16.7, 17.1, 17.0, 16.8, 17.2, 16.4, 16.7, 17.1, 16.9, 18.0,
            17.6, 17.3, 17.2, 17.0, 17.1, 16.9, 16.5, 16.9, 16.8, 16.7,
            15.9, 16.6, 16.8, 17.3, 17.3, 17.0, 17.5, 18.1, 17.2, 17.6,
            17.2, 17.6, 17.7, 17.2, 17.5, 17.3, 17.2, 16.9, 17.8, 17.6,
            17.7, 18.0, 17.7, 17.9, 18.1, 17.8, 18.2, 17.8, 17.9, 18.4,
            18.0, 17.9, 17.8, 17.7, 18.1, 17.8, 18.0, 18.6, 18.1, 17.8,
            18.0, 18.2, 17.9, 17.8, 18.1, 18.0, 18.4, 18.2, 17.2]
MAURITANIA = [20.1, 20.4, 20.2, 20.1, 20.1, 19.6, 20.2, 20.3, 20.2, 20.0,
              20.2, 20.3, 20.1, 19.9, 20.0, 19.6, 19.6, 20.5, 20.0, 19.8,
              20.1, 20.0, 20.3, 20.4, 20.5, 20.1, 19.9, 19.7, 19.9, 20.3,
              20.0, 20.2, 20.5, 20.6, 20.6, 20.5, 20.4, 20.3, 20.3, 20.0,
              20.4, 20.2, 20.5, 20.6, 20.2, 20.1, 20.3, 20.2, 19.9, 19.7,
              19.8, 20.2, 19.8, 20.0, 20.2, 19.8, 20.1, 20.1, 20.0, 20.7,
              20.6, 20.0, 19.8, 20.3, 20.0, 19.5, 19.7, 20.3, 19.4, 20.2,
              19.5, 19.5, 19.5, 20.4, 20.6, 20.9, 20.6, 20.5, 21.2, 20.6,
              20.5, 21.2, 20.4, 20.8, 20.9, 20.6, 20.5, 20.8, 20.4, 20.5,
              20.7, 21.0, 20.9, 21.3, 20.9, 20.7, 21.1, 21.1, 21.2, 21.3,
              20.5, 21.3, 21.1, 21.0, 21.1, 20.9, 21.1, 20.9, 21.0, 21.6,
              21.0, 20.8, 21.2, 21.1, 20.9, 21.1, 21.2, 21.0, 20.7]

COUNTRIES = ["Denmark", "Sweden", "Finland", "Estonia",
             "Latvia", "Lithuania", "Belarus", "Ukraine",
             "Moldavia", "Romania", "Bulgaria", "Greece",
             "Macedonia", "Albania", "Bosnia-Herzegovinia", "Yugoslavia",
             "Croatia", "Slovenia", "Hungary", "Slovakia",
             "Poland", "Czech Republic", "Austria", "Switzerland",
             "Monaco", "Italy", "San Marino", "Malta",
             "Andorra", "Spain", "Portugal", "Morocco",
             "Canary Isl", "Madeira", "Western Sahara", "Mauritania"]
SERIES = [DENMARK, SWEDEN, FINLAND, ESTONIA,
          LATVIA, LITHUANIA, BELARUS, UKRAINE,
          MOLDAVIA, ROMANIA, BULGARIA, GREECE,
          MACEDONIA, ALBANIA, BOSNIA, YUGOSLAVIA,
          CROATIA, SLOVENIA, HUNGARY, SLOVAKIA,
          POLAND, CZECH, AUSTRIA, SWITZERLAND,
          MONACO, ITALY, SAN_MARINO, MALTA,
          ANDORRA, SPAIN, PORTUGAL, MOROCCO,
          CANARY, MADEIRA, W_SAHARA, MAURITANIA]
YTICKS = [[2, 4, 6, 8], [-5, 0, 5], [-5, 0, 5], [-2, 0, 2, 4],
          [-5, 0, 5], [0, 2, 4, 6], [-5, 0, 5], [0, 5, 10],
          [2, 4, 6, 8], [2, 4, 6], [2, 4, 6, 8], [8, 10, 12, 14],
          [2, 4, 6, 8], [4, 6, 8, 10], [2, 4, 6, 8], [2, 4, 6, 8],
          [4, 6, 8, 10], [2, 4, 6, 8], [2, 4, 6, 8], [-5, 0, 5],
          [0, 2, 4, 6], [0, 2, 4, 6], [0, 2, 4, 6], [0, 2, 4, 6],
          [8, 10, 12, 14], [8, 10, 12], [6, 8, 10, 12], [14, 16, 18],
          [0, 2, 4, 6], [6, 8, 10], [9, 10, 11, 12], [10, 11, 12, 13],
          [12, 14, 16, 18], [12, 14, 16], [14, 16, 18, 20], [19, 20, 21, 22]]

W, H = 1195, 1751
COL_LEFT = [33.7, 341.7, 650.0, 958.0]
PW, PH = 234.0, 123.0
ROW0, ROWSTEP = 29.0, 196.1
FONT = "Liberation Sans, Arial, Helvetica, sans-serif"
AXC = "#3a3a3a"
TXT = "#262626"


def py(ypx):
    return 1 - ypx / H


fig = go.Figure()
layout = {}
annotations = []
for i, (name, vals, yt) in enumerate(zip(COUNTRIES, SERIES, YTICKS)):
    r, c = divmod(i, 4)
    left = COL_LEFT[c]
    top = ROW0 + r * ROWSTEP
    sfx = "" if i == 0 else str(i + 1)
    for col, w in (("#22dd22", 3.0), ("#ee0000", 2.2), ("#000000", 1.4)):
        fig.add_trace(go.Scatter(x=YEARS, y=vals, mode="lines",
                                 line=dict(color=col, width=w),
                                 xaxis="x" + sfx, yaxis="y" + sfx,
                                 showlegend=False, hoverinfo="skip"))
    common = dict(showline=True, linecolor=AXC, linewidth=1, mirror="ticks",
                  ticks="inside", ticklen=4, tickcolor=AXC, tickwidth=1,
                  showgrid=False, zeroline=False, automargin=False,
                  tickfont=dict(family=FONT, size=15, color=TXT))
    layout["xaxis" + sfx] = dict(domain=[left / W, (left + PW) / W],
                                 anchor="y" + sfx, range=[1901, 2019],
                                 tickvals=XTICKS, ticklabelstandoff=5, **common)
    layout["yaxis" + sfx] = dict(domain=[py(top + PH), py(top)],
                                 anchor="x" + sfx, range=[yt[0], yt[-1]],
                                 tickvals=yt, ticktext=[str(v) for v in yt],
                                 ticklabelstandoff=8, **common)
    annotations.append(dict(text="<b>" + name + "</b>", xref="paper", yref="paper",
                            x=(left + PW / 2) / W, y=py(top - 1),
                            xanchor="center", yanchor="bottom", showarrow=False,
                            font=dict(family=FONT, size=17.5, color="#000000")))

annotations.append(dict(text="Page 3", xref="paper", yref="paper",
                        x=1183 / W, y=py(26), xanchor="right", yanchor="bottom",
                        showarrow=False,
                        font=dict(family=FONT, size=32, color="#000000")))

fig.update_layout(width=W, height=H, autosize=False,
                  margin=dict(l=0, r=0, t=0, b=0, pad=0),
                  paper_bgcolor="white", plot_bgcolor="white",
                  annotations=annotations, **layout)
fig.write_html("out.html", config={"displayModeBar": False},
               post_script="document.body.style.margin='0';"
                           "document.body.style.overflow='hidden';")
